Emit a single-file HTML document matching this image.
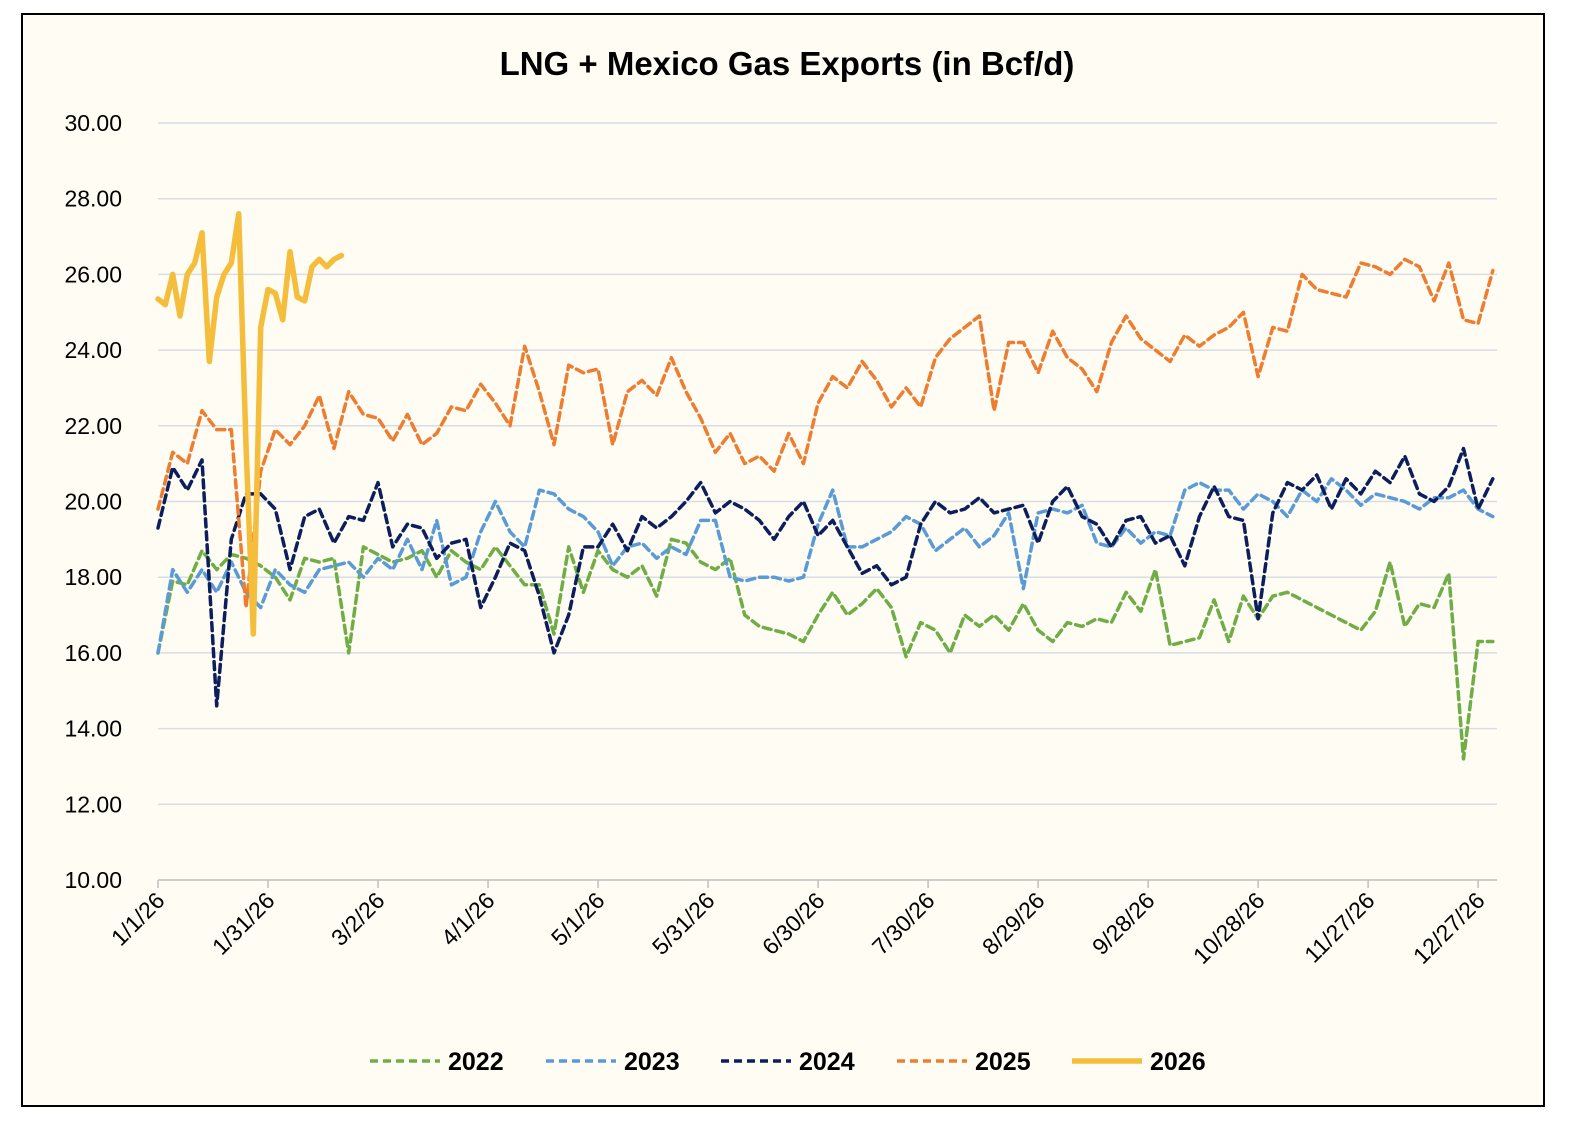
<!DOCTYPE html>
<html><head><meta charset="utf-8"><style>
html,body{margin:0;padding:0;background:#fff;}
svg{display:block;font-family:"Liberation Sans",sans-serif;}
</style></head><body>
<svg id="chart" width="1584" height="1134" viewBox="0 0 1584 1134">
<rect x="0" y="0" width="1584" height="1134" fill="#ffffff"/>
<rect x="22" y="14" width="1522" height="1092" fill="#fefcf3" stroke="#000" stroke-width="2"/>
<text x="787" y="75" text-anchor="middle" font-size="33" font-weight="bold" fill="#000">LNG + Mexico Gas Exports (in Bcf/d)</text>
<g id="grid"></g>
<g id="yticks"></g>
<g id="xaxis"></g>
<g id="series"></g>
<g id="legend"></g>
</svg>
<script>
const yTicks = [10,12,14,16,18,20,22,24,26,28,30];
const xTickDays = [0,30,60,90,120,150,180,210,240,270,300,330,360];
const xTickLabels = ["1/1/26","1/31/26","3/2/26","4/1/26","5/1/26","5/31/26","6/30/26","7/30/26","8/29/26","9/28/26","10/28/26","11/27/26","12/27/26"];
const seriesNames = ["2022","2023","2024","2025","2026"];
const stepDays = 4;
const v2022 = [16.0,17.9,17.8,18.7,18.2,18.6,18.5,18.3,18.0,17.4,18.5,18.4,18.5,16.0,18.8,18.6,18.4,18.5,18.7,18.0,18.7,18.4,18.2,18.8,18.3,17.8,17.8,16.5,18.8,17.6,18.7,18.2,18.0,18.3,17.5,19.0,18.9,18.4,18.2,18.5,17.0,16.7,16.6,16.5,16.3,17.0,17.6,17.0,17.3,17.7,17.2,15.9,16.8,16.6,16.0,17.0,16.7,17.0,16.6,17.3,16.6,16.3,16.8,16.7,16.9,16.8,17.6,17.1,18.2,16.2,16.3,16.4,17.4,16.3,17.5,16.9,17.5,17.6,17.4,17.2,17.0,16.8,16.6,17.1,18.4,16.7,17.3,17.2,18.1,13.2,16.3,16.3];
const v2023 = [16.0,18.2,17.6,18.2,17.6,18.4,17.6,17.2,18.2,17.8,17.6,18.2,18.3,18.4,18.0,18.5,18.2,19.0,18.2,19.5,17.8,18.0,19.2,20.0,19.2,18.8,20.3,20.2,19.8,19.6,19.2,18.3,18.8,18.9,18.5,18.8,18.6,19.5,19.5,18.0,17.9,18.0,18.0,17.9,18.0,19.4,20.3,18.8,18.8,19.0,19.2,19.6,19.4,18.7,19.0,19.3,18.8,19.1,19.7,17.7,19.7,19.8,19.7,19.9,18.9,18.8,19.3,18.9,19.2,19.1,20.3,20.5,20.3,20.3,19.8,20.2,20.0,19.6,20.3,20.0,20.6,20.3,19.9,20.2,20.1,20.0,19.8,20.1,20.1,20.3,19.8,19.6];
const v2024 = [19.3,20.9,20.3,21.1,14.6,19.0,20.2,20.2,19.8,18.2,19.6,19.8,18.9,19.6,19.5,20.5,18.8,19.4,19.3,18.5,18.9,19.0,17.2,18.0,18.9,18.7,17.5,16.0,17.0,18.8,18.8,19.4,18.7,19.6,19.3,19.6,20.0,20.5,19.7,20.0,19.8,19.5,19.0,19.6,20.0,19.1,19.5,18.8,18.1,18.3,17.8,18.0,19.4,20.0,19.7,19.8,20.1,19.7,19.8,19.9,18.9,20.0,20.4,19.6,19.4,18.8,19.5,19.6,18.9,19.1,18.3,19.6,20.4,19.6,19.5,16.9,19.7,20.5,20.3,20.7,19.8,20.6,20.2,20.8,20.5,21.2,20.2,20.0,20.4,21.4,19.8,20.6];
const v2025 = [19.8,21.3,21.0,22.4,21.9,21.9,17.2,20.8,21.9,21.5,22.0,22.8,21.4,22.9,22.3,22.2,21.6,22.3,21.5,21.8,22.5,22.4,23.1,22.6,22.0,24.1,22.9,21.5,23.6,23.4,23.5,21.5,22.9,23.2,22.8,23.8,22.9,22.2,21.3,21.8,21.0,21.2,20.8,21.8,21.0,22.6,23.3,23.0,23.7,23.2,22.5,23.0,22.5,23.8,24.3,24.6,24.9,22.4,24.2,24.2,23.4,24.5,23.8,23.5,22.9,24.2,24.9,24.3,24.0,23.7,24.4,24.1,24.4,24.6,25.0,23.3,24.6,24.5,26.0,25.6,25.5,25.4,26.3,26.2,26.0,26.4,26.2,25.3,26.3,24.8,24.7,26.1];
const step2026 = 2;
const v2026 = [25.35,25.2,26.0,24.9,26.0,26.3,27.1,23.7,25.4,26.0,26.3,27.6,21.5,16.5,24.6,25.6,25.5,24.8,26.6,25.4,25.3,26.2,26.4,26.2,26.4,26.5];

const X0=158, PXD=3.667, Y0=880, PXV=37.85;
const xs = d => X0 + d*PXD;
const ys = v => Y0 - (v-10)*PXV;
const NS='http://www.w3.org/2000/svg';
function mk(tag, attrs, parent){const e=document.createElementNS(NS,tag);for(const k in attrs)e.setAttribute(k,attrs[k]);parent.appendChild(e);return e;}

const grid=document.getElementById('grid'), yt=document.getElementById('yticks'), xa=document.getElementById('xaxis');
yTicks.forEach(v=>{
  if(v!==10){const l=mk('line',{x1:X0,x2:1497,y1:ys(v),y2:ys(v),stroke:'#d9dde4','stroke-width':1.5},grid);
  
  }
  const t=mk('text',{x:122,y:ys(v)+8,'text-anchor':'end','font-size':23,fill:'#000'},yt);
  t.textContent=v.toFixed(2);
  
  
});
const ax=mk('line',{x1:X0,x2:1497,y1:Y0,y2:Y0,stroke:'#bfbfbf','stroke-width':1.5},xa);


xTickDays.forEach((d,i)=>{
  const tk=mk('line',{x1:xs(d),x2:xs(d),y1:Y0,y2:Y0+8,stroke:'#bfbfbf','stroke-width':1.5},xa);
  
  
  const t=mk('text',{x:xs(d)+8,y:Y0+22,'text-anchor':'end','font-size':23,fill:'#000',transform:`rotate(-45 ${xs(d)+8} ${Y0+22})`},xa);
  t.textContent=xTickLabels[i];
  
  
});

const styles=[
 {c:'#70ad47',w:3.5,dash:'8 5'},{c:'#5b9bd5',w:3.5,dash:'8 5'},{c:'#0c1f5c',w:3.5,dash:'8 5'},{c:'#ed7d31',w:3.5,dash:'8 5'},{c:'#f5bd3c',w:5.5,dash:'none'}];
const data=[v2022,v2023,v2024,v2025,v2026];
const steps=[stepDays,stepDays,stepDays,stepDays,step2026];
const sg=document.getElementById('series');
data.forEach((arr,si)=>{
  const pts=arr.map((v,i)=>xs(i*steps[si]).toFixed(1)+','+ys(v).toFixed(1)).join(' ');
  const p=mk('polyline',{points:pts,fill:'none',stroke:styles[si].c,'stroke-width':styles[si].w,'stroke-dasharray':styles[si].dash,'stroke-linejoin':'round','stroke-linecap':'round'},sg);
  
  
});

const lg=document.getElementById('legend');
const lx=[370,546,721,897,1072];
seriesNames.forEach((n,i)=>{
  const l=mk('line',{x1:lx[i],x2:lx[i]+70,y1:1061,y2:1061,stroke:styles[i].c,'stroke-width':styles[i].w,'stroke-dasharray':styles[i].dash},lg);
  
  
  const t=mk('text',{x:lx[i]+78,y:1070,'font-size':25,'font-weight':'bold',fill:'#000'},lg);
  t.textContent=n;
  
  
});
</script>
</body></html>
